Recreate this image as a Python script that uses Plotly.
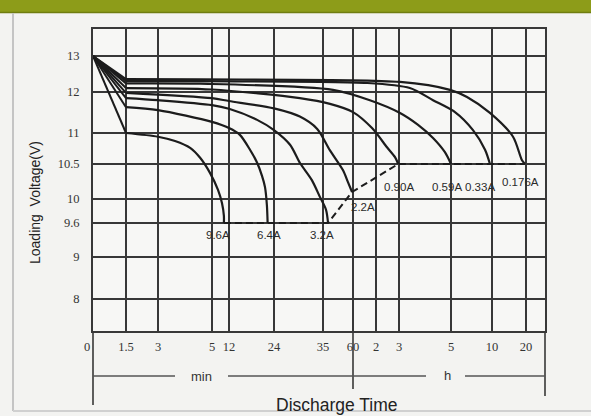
import numpy as np
import plotly.graph_objects as go

# ---- printed (non-linear) axis scales of the datasheet chart ----
x_tick_min = [0, 1.5, 3, 5, 12, 24, 35, 60, 120, 180, 300, 600, 1200]
x_tick_text = ["", "1.5", "3", "5", "12", "24", "35", "60", "2", "3", "5", "10", "20"]
x_tick_pos = [0, 33, 65, 119, 136, 181, 230, 260, 283, 306, 358, 399, 433]
x_end_pos = 452

y_tick_v = [8, 9, 9.6, 10, 10.5, 11, 12, 13]
y_tick_text = ["8", "9", "9.6", "10", "10.5", "11", "12", "13"]
y_tick_pos = [32, 74, 108, 132, 167, 198, 239, 275]
y_end_pos = 302

# ---- discharge curves: time (min) / voltage (V) ----
labels = ["9.6A", "6.4A", "3.2A", "2.2A", "0.90A", "0.59A", "0.33A", "0.176A"]

t_9_6 = [0, 1.5, 3, 3.63, 4.19, 4.56, 4.93, 7.47, 9.12, 9.9, 9.9]
v_9_6 = [13, 11.0, 10.94, 10.87, 10.76, 10.6, 10.37, 10.13, 9.93, 9.72, 9.6]

t_6_4 = [0, 1.5, 3, 5, 12, 14.9, 17.6, 19.5, 20.8, 21.6, 22.1, 22.3]
v_6_4 = [13, 11.63, 11.56, 11.27, 11.12, 10.97, 10.73, 10.52, 10.33, 10.17, 9.9, 9.6]

t_3_2 = [0, 1.5, 3, 5, 12, 19.5, 24, 27.6, 29.8, 32.5, 34.3, 37.5, 39.2]
v_3_2 = [13, 11.85, 11.8, 11.68, 11.59, 11.32, 11.07, 10.81, 10.52, 10.27, 10.03, 9.82, 9.6]

t_2_2 = [0, 1.5, 5, 12, 24, 29.8, 33.7, 40.8, 51.7, 55.8, 59.2]
v_2_2 = [13, 11.98, 11.85, 11.78, 11.6, 11.4, 11.1, 10.72, 10.41, 10.24, 10.1]

t_0_90 = [0, 1.5, 5, 29.8, 40.8, 60, 109.6, 148.7, 169.6, 178]
v_0_90 = [13, 12.11, 12.07, 11.85, 11.71, 11.51, 11.12, 10.77, 10.61, 10.5]

t_0_59 = [0, 1.5, 4.56, 43.3, 104, 182.3, 224, 258.5, 286, 300]
v_0_59 = [13, 12.24, 12.23, 12.06, 11.8, 11.49, 11.2, 10.92, 10.69, 10.5]

t_0_33 = [0, 1.5, 4.56, 96.5, 205, 258.5, 329, 461, 549, 585]
v_0_33 = [13, 12.31, 12.3, 12.25, 12.11, 11.8, 11.51, 11.07, 10.73, 10.5]

t_0_176 = [0, 1.5, 4.56, 182.3, 297.7, 417, 585, 971, 1129, 1182]
v_0_176 = [13, 12.36, 12.35, 12.28, 12.06, 11.88, 11.49, 10.94, 10.56, 10.5]

series_t = [t_9_6, t_6_4, t_3_2, t_2_2, t_0_90, t_0_59, t_0_33, t_0_176]
series_v = [v_9_6, v_6_4, v_3_2, v_2_2, v_0_90, v_0_59, v_0_33, v_0_176]

# label offsets (px) from each curve's end point
label_dx = [-6, 1, -6, 11, 1, -4, -10, -4]
label_dy = [-12, -12, -12, -15, -23, -23, -23, -18]


def sx(t):
    return np.interp(t, x_tick_min, x_tick_pos)


def sy(v):
    return np.interp(v, y_tick_v, y_tick_pos)


L, R, T, B = 93, 545, 29, 331
W, H = 591, 416


def px_x(p):
    return (p - L) / (R - L)


def px_y(p):
    return (B - p) / (B - T)


INK = "#1c1c1c"
GRID = "#383838"

fig = go.Figure()

for t, v in zip(series_t, series_v):
    xs, ys = sx(t), sy(v)
    # straight initial drop
    fig.add_trace(go.Scatter(x=xs[:2], y=ys[:2], mode="lines",
                             line=dict(color=INK, width=2), hoverinfo="skip",
                             showlegend=False))
    # smooth discharge curve
    fig.add_trace(go.Scatter(x=xs[1:], y=ys[1:], mode="lines",
                             line=dict(color=INK, width=2.2, shape="spline",
                                       smoothing=0.8),
                             hoverinfo="skip", showlegend=False))

# dashed end-of-discharge line through curve end points
end_t = [t[-1] for t in series_t]
end_v = [v[-1] for v in series_v]
fig.add_trace(go.Scatter(x=sx(end_t), y=sy(end_v), mode="lines",
                         line=dict(color=INK, width=2, dash="7px,4px"),
                         hoverinfo="skip", showlegend=False))

ann = []
for lab, t, v, dx, dy in zip(labels, end_t, end_v, label_dx, label_dy):
    ann.append(dict(x=sx(t), y=sy(v), xref="x", yref="y", text=lab,
                    showarrow=False, xshift=dx, yshift=dy,
                    xanchor="center", yanchor="middle",
                    font=dict(family="Liberation Sans", size=11.5, color="#2a2a2a")))


def paper_text(px, py, text, family, size, color="#333", angle=0):
    return dict(x=px_x(px), y=px_y(py), xref="paper", yref="paper", text=text,
                showarrow=False, xanchor="center", yanchor="middle",
                textangle=angle, font=dict(family=family, size=size, color=color))


ann += [
    paper_text(87, 347, "0", "Liberation Serif", 12.5),
    paper_text(201, 376, "min", "Liberation Sans", 13),
    paper_text(447, 375, "h", "Liberation Sans", 13),
    paper_text(337, 405, "Discharge Time", "Liberation Sans", 17.5, "#222"),
    paper_text(35, 203, "Loading  Voltage(V)", "Liberation Sans", 14, "#222", -90),
]

shapes = [
    # green header band
    dict(type="rect", xref="paper", yref="paper", x0=px_x(0), x1=px_x(W),
         y0=px_y(12), y1=px_y(0), fillcolor="#8d9c19", line=dict(width=0), layer="below"),
    dict(type="line", xref="paper", yref="paper", x0=px_x(0), x1=px_x(W),
         y0=px_y(12.5), y1=px_y(12.5), line=dict(color="#6f7d10", width=1.5)),
    # photo border
    dict(type="line", xref="paper", yref="paper", x0=px_x(13), x1=px_x(13),
         y0=px_y(13), y1=px_y(411), line=dict(color="#c4c4c4", width=2)),
    dict(type="line", xref="paper", yref="paper", x0=px_x(13), x1=px_x(W),
         y0=px_y(411), y1=px_y(411), line=dict(color="#d0d0d0", width=2)),
    # axis extensions below the plot
    dict(type="line", xref="paper", yref="paper", x0=0, x1=0,
         y0=px_y(B), y1=px_y(405), line=dict(color=GRID, width=1.6)),
    dict(type="line", xref="x", yref="paper", x0=sx(60), x1=sx(60),
         y0=px_y(B), y1=px_y(389), line=dict(color=GRID, width=1.6)),
    dict(type="line", xref="paper", yref="paper", x0=1, x1=1,
         y0=px_y(B), y1=px_y(396), line=dict(color=GRID, width=1.6)),
    # min / h range lines
    dict(type="line", xref="paper", yref="paper", x0=px_x(93), x1=px_x(175),
         y0=px_y(376), y1=px_y(376), line=dict(color="#555", width=1.3)),
    dict(type="line", xref="paper", yref="paper", x0=px_x(228), x1=px_x(426),
         y0=px_y(376), y1=px_y(376), line=dict(color="#555", width=1.3)),
    dict(type="line", xref="paper", yref="paper", x0=px_x(465), x1=px_x(545),
         y0=px_y(376), y1=px_y(376), line=dict(color="#555", width=1.3)),
]

fig.update_layout(
    width=W, height=H,
    margin=dict(l=L, r=W - R, t=T, b=H - B, pad=0),
    paper_bgcolor="#f3f3f1",
    plot_bgcolor="#f7f7f5",
    annotations=ann,
    shapes=shapes,
    showlegend=False,
)

fig.update_xaxes(range=[0, x_end_pos], tickmode="array", tickvals=x_tick_pos,
                 ticktext=x_tick_text, showgrid=True, gridcolor=GRID, gridwidth=1.6,
                 showline=True, mirror=True, linecolor=GRID, linewidth=1.8,
                 zeroline=False, ticks="", ticklabelstandoff=3,
                 tickfont=dict(family="Liberation Serif", size=12.5, color="#333"))
fig.update_yaxes(range=[0, y_end_pos], tickmode="array", tickvals=y_tick_pos,
                 ticktext=y_tick_text, showgrid=True, gridcolor=GRID, gridwidth=1.6,
                 showline=True, mirror=True, linecolor=GRID, linewidth=1.8,
                 zeroline=False, ticks="", ticklabelstandoff=9,
                 tickfont=dict(family="Liberation Serif", size=12.5, color="#333"))

fig.write_html("out.html",
               config={"displayModeBar": False},
               post_script="document.body.style.margin='0';"
                           "document.body.style.background='#f3f3f1';")
